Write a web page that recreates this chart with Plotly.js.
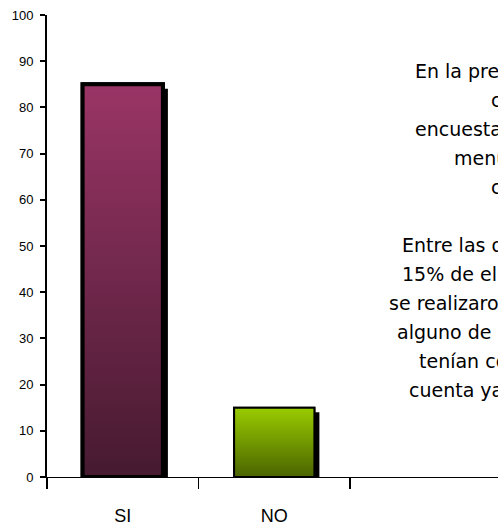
<!DOCTYPE html>
<html><head><meta charset="utf-8">
<script src="https://cdn.plot.ly/plotly-3.0.1.min.js"></script>
<style>html,body{margin:0;padding:0;overflow:hidden;background:#fff}</style>
</head><body><div id="chart" style="width:498px;height:527px"></div>
<script>
// ---- data ----
const categories = ['SI', 'NO'];
const values = [85, 15];
const yTicks = [0, 10, 20, 30, 40, 50, 60, 70, 80, 90, 100];
const noteLines = [
  'En la presente gráfica',
  'con respecto a las',
  'encuestadas, el 85%',
  'menú de métodos',
  'conocen.',
  '',
  'Entre las que no',
  '15% de ellas',
  'se realizaron',
  'alguno de los',
  'tenían conocimiento',
  'cuenta ya que'
];

// ---- styles ----
const topColors = ['#9a3566', '#99cc00'];
const bottomColors = ['#461a30', '#4a6400'];
const midColors = ['#702849', '#729900'];
const borderW = [4, 2];
const barW = 0.53;
const lineStartPx = [413, 489, 413, 452, 489, null, 400, 400, 387, 395, 417, 407];

const plotL = 47, plotT = 15, plotW = 451, plotH = 462;
const catPx = 151.5;
const xMin = -0.5, xMax = -0.5 + plotW / catPx;
const dx = 5 / catPx, dy = 4.5 / (plotH / 100);

const pos = categories.map((c, i) => i);
const bounds = categories.map((c, i) => i - 0.5).concat([categories.length - 0.5]);

const traces = [];
traces.push({
  type: 'bar', x: pos, y: values, base: values.map(() => -dy),
  width: barW, offset: -barW / 2 + dx,
  marker: {color: '#000', line: {width: 0}}, hoverinfo: 'skip', showlegend: false
});
traces.push({
  type: 'bar', x: pos, y: values, width: barW,
  marker: {color: midColors, line: {color: '#000', width: borderW}},
  showlegend: false
});
categories.forEach((c, i) => {
  const p = pos[i], v = values[i];
  traces.push({
    type: 'scatter', mode: 'lines', showlegend: false, hoverinfo: 'skip',
    x: [p - barW / 2, p + barW / 2, p + barW / 2, p - barW / 2, p - barW / 2],
    y: [0, 0, v, v, 0],
    fill: 'toself',
    fillgradient: {type: 'vertical', colorscale: [[0, bottomColors[i]], [1, topColors[i]]], start: 0, stop: v},
    line: {color: '#000', width: borderW[i]}
  });
});

const annotations = [];
noteLines.forEach((t, i) => {
  if (!t) return;
  const py = 71 + i * 29;
  annotations.push({
    xref: 'paper', yref: 'paper',
    x: (lineStartPx[i] - plotL) / plotW, y: (plotT + plotH - py) / plotH,
    xanchor: 'left', yanchor: 'middle', showarrow: false, text: t,
    font: {family: 'DejaVu Sans, sans-serif', size: 19, color: '#000'}
  });
});

const layout = {
  width: 498, height: 527,
  margin: {l: plotL, r: 0, t: plotT, b: 527 - plotT - plotH},
  paper_bgcolor: '#fff', plot_bgcolor: '#fff',
  showlegend: false, barmode: 'overlay',
  xaxis: {
    range: [xMin, xMax], tickmode: 'array', tickvals: pos, ticktext: categories,
    ticks: '', showline: true, linecolor: '#000', linewidth: 1,
    showgrid: false, zeroline: false, ticklabelstandoff: 22,
    tickfont: {family: 'Liberation Sans, Arial, sans-serif', size: 18, color: '#000'},
    minor: {tickmode: 'array', tickvals: bounds, ticks: 'outside', ticklen: 11, tickwidth: 1.5, tickcolor: '#000', showgrid: false}
  },
  yaxis: {
    range: [0, 100], tickmode: 'array', tickvals: yTicks,
    ticks: 'outside', ticklen: 5, tickwidth: 2, tickcolor: '#000',
    showline: true, linewidth: 2, linecolor: '#000',
    showgrid: false, zeroline: false, ticklabelstandoff: 4,
    tickfont: {family: 'Liberation Sans, Arial, sans-serif', size: 13, color: '#000'}
  },
  annotations: annotations
};

Plotly.newPlot('chart', traces, layout, {displayModeBar: false, staticPlot: true});
</script>
</body></html>
